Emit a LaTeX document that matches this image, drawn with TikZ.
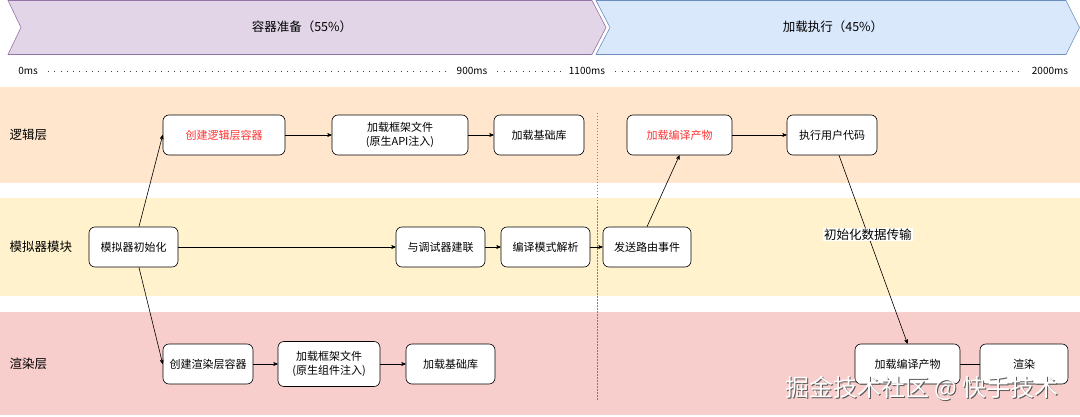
\documentclass[tikz,border=0pt]{standalone}
\usepackage{fontspec}
\setmainfont{Noto Sans CJK SC}
\usepackage{tikz}
\usetikzlibrary{arrows}
\definecolor{phasea}{HTML}{E1D5E7}
\definecolor{phasealine}{HTML}{9673A6}
\definecolor{phaseb}{HTML}{DAE8FC}
\definecolor{phasebline}{HTML}{6C8EBF}
\definecolor{lanelogic}{HTML}{FFE6CC}
\definecolor{lanesim}{HTML}{FFF2CC}
\definecolor{lanerender}{HTML}{F8CECC}
\definecolor{hot}{HTML}{FF3333}
\definecolor{sepline}{HTML}{8C7B70}
\tikzset{
 box/.style={draw=black, fill=white, rounded corners=6pt, line width=.6pt, align=center,
  inner sep=0pt, minimum height=40, font=\fontsize{11}{14}\selectfont},
 lanename/.style={anchor=west, font=\fontsize{12.5}{14}\selectfont},
 phasename/.style={font=\fontsize{12.5}{14}\selectfont},
 tick/.style={font=\fontsize{10}{11}\selectfont, inner sep=1pt},
 dots/.style={black!75, line width=.9pt, dash pattern=on .9pt off 5.4pt, shorten <=9pt, shorten >=7pt},
 link/.style={->, >=stealth', line width=.6pt},
 mark text/.style={font=\fontsize{24}{26}\selectfont},
}

\begin{document}
\begin{tikzpicture}[x=1pt, y=-1pt]
\useasboundingbox (0,0) rectangle (1080,417);
\fill[lanelogic] (0,87) rectangle (1080,183);
\fill[lanesim] (0,198) rectangle (1080,296);
\fill[lanerender] (0,312) rectangle (1080,415);

\draw[phasealine, fill=phasea, line width=.6pt] (8,.5) -- (592,.5) -- (606,27.5) -- (592,54.5) -- (8,54.5) -- (21,27.5) -- cycle;
\draw[phasebline, fill=phaseb, line width=.6pt] (596,.5) -- (1066,.5) -- (1079.5,27.5) -- (1066,54.5) -- (596,54.5) -- (610,27.5) -- cycle;
\node[phasename] (prep) at (302,27) {容器准备（55\%）};
\node[phasename] (run) at (833,27) {加载执行（45\%）};

\node[tick] (t0) at (28,71) {0ms};
\node[tick] (t900) at (472,71) {900ms};
\node[tick] (t1100) at (587,71) {1100ms};
\node[tick] (t2000) at (1050,71) {2000ms};
\draw[dots] (t0) -- (t900);
\draw[dots] (t900) -- (t1100);
\draw[dots] (t1100) -- (t2000);

\draw[sepline, line width=1pt, dash pattern=on 1.5pt off 1.5pt] (597,113) -- (597,401);

\node[lanename] (llogic) at (6,135) {逻辑层};
\node[lanename] (lsim) at (6,247) {模拟器模块};
\node[lanename] (lrender) at (6,364) {渲染层};

\node[box, minimum width=122, text=hot] (clogic) at (224,135) {创建逻辑层容器};
\node[box, minimum width=136] (lfw) at (400,135) {加载框架文件\\(原生API注入)};
\node[box, minimum width=90] (lbase) at (539,135) {加载基础库};
\node[box, minimum width=105, text=hot] (lcomp) at (679.5,135) {加载编译产物};
\node[box, minimum width=90] (exec) at (832,135) {执行用户代码};

\node[box, minimum width=89] (init) at (133.5,247) {模拟器初始化};
\node[box, minimum width=89] (dbg) at (440.5,247) {与调试器建联};
\node[box, minimum width=89] (cmode) at (545.5,247) {编译模式解析};
\node[box, minimum width=88] (route) at (647,247) {发送路由事件};

\node[box, minimum width=90] (crender) at (208,364) {创建渲染层容器};
\node[box, minimum width=102, minimum height=45] (rfw) at (329,364) {加载框架文件\\(原生组件注入)};
\node[box, minimum width=89] (rbase) at (450.5,364) {加载基础库};
\node[box, minimum width=105] (rcomp) at (907.5,364) {加载编译产物};
\node[box, minimum width=88] (paint) at (1024,364) {渲染};

\draw[link] (init.75) -- (clogic.west);
\draw[link] (init.-75) -- (crender.west);
\draw[link] (init) -- (dbg);
\foreach \a/\b in {clogic/lfw, lfw/lbase, dbg/cmode, cmode/route, lcomp/exec, crender/rfw, rfw/rbase}
 \draw[link] (\a) -- (\b);
\draw[link] (route.north) -- (lcomp.south);
\draw[link] ([xshift=7pt]exec.south) -- node[pos=.42, fill=white, inner sep=1pt, font=\fontsize{12.5}{14}\selectfont] (sync) {初始化数据传输} (rcomp.north);
\draw[line width=.6pt] (rcomp) -- (paint);

\node[mark text, text=black!65] (markshade) at (923.2,389.2) {掘金技术社区 @ 快手技术};
\node[mark text, text=white] (mark) at (922,388) {掘金技术社区 @ 快手技术};
\end{tikzpicture}
\end{document}
